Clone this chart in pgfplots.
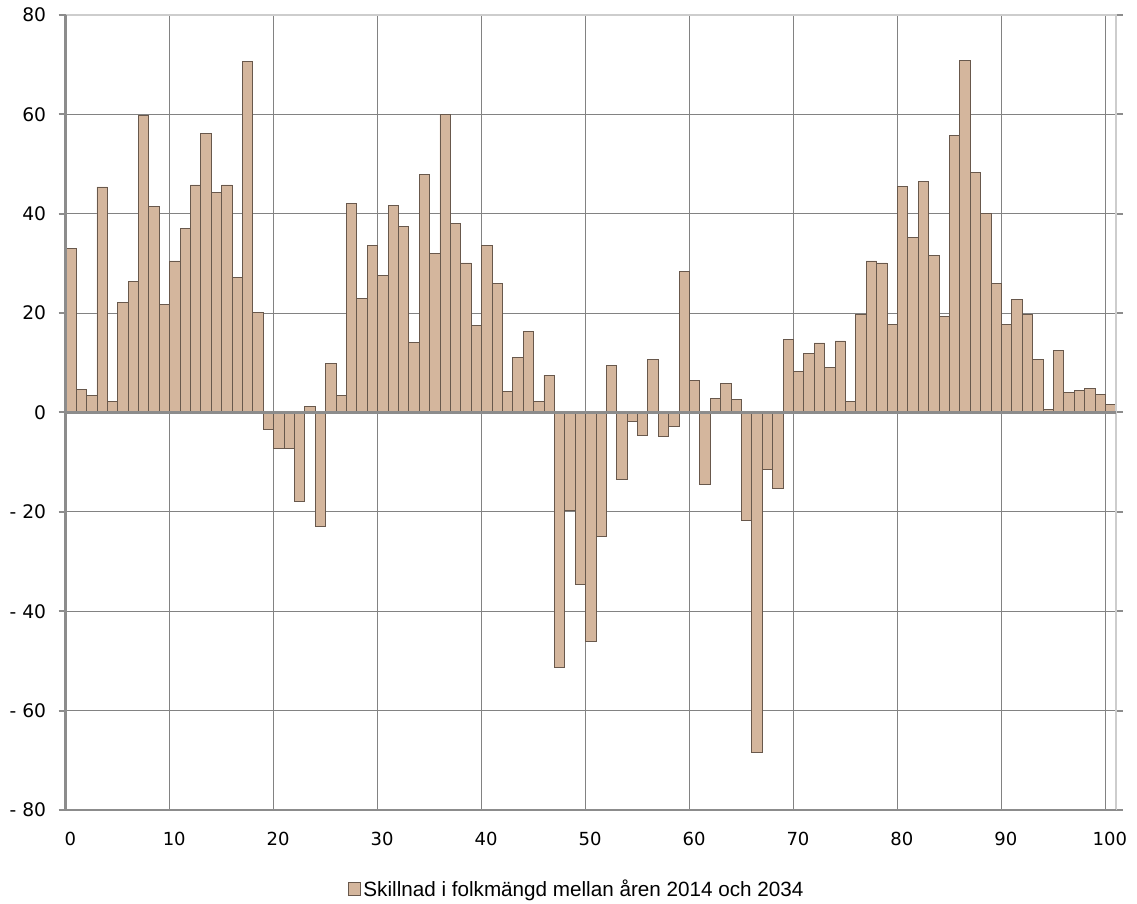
\documentclass[border=0pt]{standalone}
\usepackage{fontspec}
\setmainfont{Liberation Sans}
\newfontfamily\dejavu{DejaVu Sans}
\usepackage{pgfplots}
\usepackage{pgfplotstable}
\pgfplotsset{compat=1.18}

\definecolor{barfill}{RGB}{212,182,157}
\definecolor{baredge}{RGB}{104,88,76}
\definecolor{gridc}{RGB}{130,130,130}
\definecolor{axisc}{RGB}{140,140,140}
\definecolor{borderc}{RGB}{205,205,205}

% age, difference in population 2014 -> 2034
\pgfplotstableread{
x y
0 33.1
1 4.6
2 3.4
3 45.4
4 2.2
5 22.1
6 26.3
7 59.7
8 41.5
9 21.7
10 30.5
11 37.0
12 45.8
13 56.1
14 44.3
15 45.8
16 27.2
17 70.6
18 20.2
19 -3.5
20 -7.3
21 -7.3
22 -17.9
23 1.2
24 -22.9
25 9.9
26 3.5
27 42.1
28 22.9
29 33.6
30 27.5
31 41.6
32 37.4
33 14.1
34 48.0
35 32.1
36 59.9
37 38.1
38 30.1
39 17.6
40 33.6
41 26.0
42 4.2
43 11.0
44 16.4
45 2.2
46 7.5
47 -51.4
48 -19.7
49 -34.6
50 -46.0
51 -24.9
52 9.5
53 -13.4
54 -1.7
55 -4.7
56 10.6
57 -4.9
58 -2.8
59 28.3
60 6.4
61 -14.5
62 2.9
63 5.9
64 2.6
65 -21.8
66 -68.4
67 -11.5
68 -15.3
69 14.7
70 8.3
71 11.9
72 14.0
73 9.0
74 14.4
75 2.2
76 19.7
77 30.5
78 30.1
79 17.8
80 45.5
81 35.2
82 46.5
83 31.6
84 19.4
85 55.8
86 70.8
87 48.4
88 40.1
89 25.9
90 17.8
91 22.8
92 19.7
93 10.6
94 0.7
95 12.5
96 4.1
97 4.4
98 4.9
99 3.6
100 1.7
}\skillnad

\begin{document}
\begin{tikzpicture}
\begin{axis}[
    scale only axis,
    width=787.5pt,
    height=596.25pt,
    clip=false,
    xmin=-0.5, xmax=100.5,
    ymin=-80, ymax=80,
    xtick={-0.5,9.5,19.5,29.5,39.5,49.5,59.5,69.5,79.5,89.5,99.5},
    xticklabels={0,10,20,30,40,50,60,70,80,90,100},
    ytick={-80,-60,-40,-20,0,20,40,60,80},
    yticklabels={- 80,- 60,- 40,- 20,0,20,40,60,80},
    xmajorgrids, ymajorgrids,
    grid style={draw=gridc, line width=0.8pt},
    axis line style={draw=none},
    tick align=outside,
    major tick length=5.25pt,
    xtick style={draw=none},
    ytick style={draw=axisc, line width=1.5pt},
    xticklabel style={font=\dejavu\fontsize{13.5}{16}\selectfont, anchor=north, xshift=3.4pt, yshift=-8pt},
    yticklabel style={font=\dejavu\fontsize{14}{16}\selectfont, anchor=east, xshift=-6pt},
    legend style={draw=none, fill=none, at={(rel axis cs:0.487,-0.099)}, anchor=center,
        font=\fontsize{15.5}{18}\selectfont, inner sep=0pt,
        /tikz/every even column/.append style={column sep=0pt}},
    legend image code/.code={\draw[#1, line width=0.6pt] (0pt,-4.7pt) rectangle (9pt,4.7pt);},
    legend cell align=left,
]
\addplot[ybar, bar width=1, fill=barfill, draw=baredge, line width=0.6pt] table[x=x,y=y] {\skillnad};
\addlegendentry{Skillnad i folkmängd mellan åren 2014 och 2034}

\draw[borderc, line width=1.5pt] (rel axis cs:0,1) -- (rel axis cs:1,1) -- (rel axis cs:1,0);
\draw[axisc, line width=1.5pt] (rel axis cs:0,0) -- (rel axis cs:1,0);
\draw[axisc, line width=2.25pt] (axis cs:-0.5,0) -- (axis cs:100.5,0);
\draw[axisc, line width=2.25pt] (rel axis cs:0,0) -- (rel axis cs:0,1);
\path (rel axis cs:-0.0626,-0.1177) rectangle (rel axis cs:1.0203,1.0189);
\end{axis}
\end{tikzpicture}
\end{document}
